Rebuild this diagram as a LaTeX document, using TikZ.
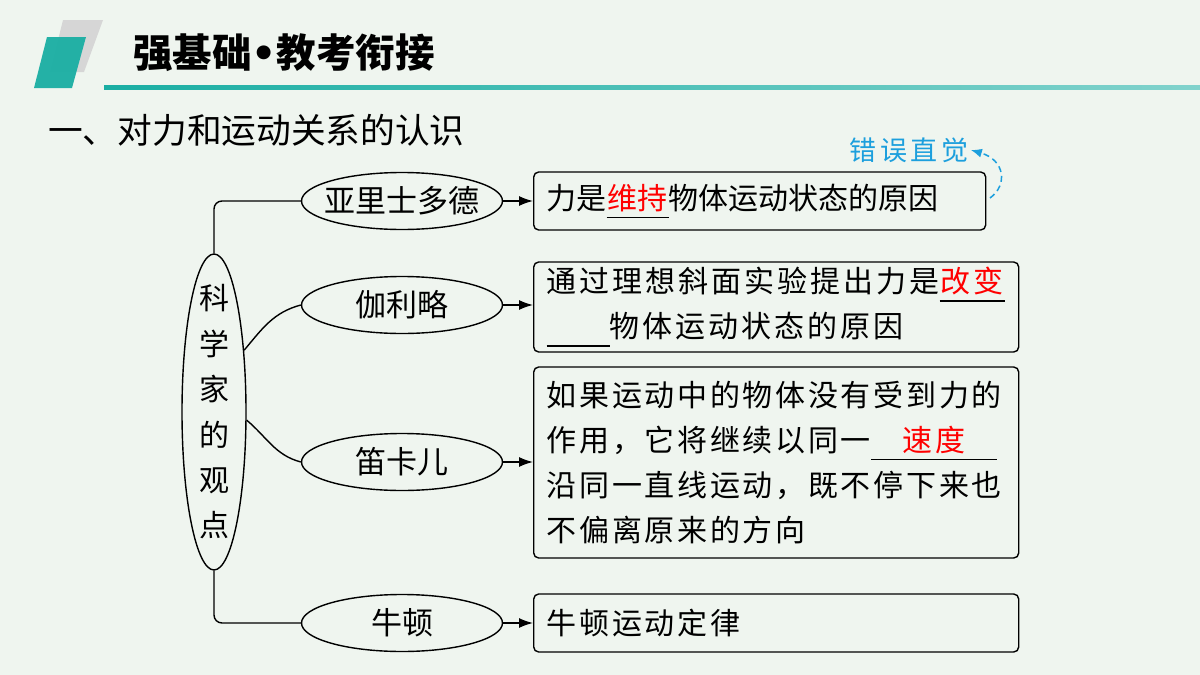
\documentclass[tikz,border=0pt]{standalone}
\usepackage{fontspec}
\setmainfont{Noto Sans CJK SC}
\newfontfamily\dotfont{DejaVu Sans}
\usetikzlibrary{shapes.geometric,arrows.meta,positioning}
\definecolor{bgmint}{HTML}{EFF5EF}
\definecolor{headteal}{HTML}{1AAEA3}
\definecolor{headgray}{HTML}{D6D6D6}
\definecolor{hintblue}{HTML}{1C9FDD}
\newcommand{\gap}[2]{\makebox[#1]{\textcolor{red}{#2}}\kern-#1\textcolor{black}{\rule[-9pt]{#1}{1.3pt}}}
\tikzset{
	who/.style={draw, line width=1.4pt, ellipse, minimum width=201pt, minimum height=57pt, inner sep=0pt, font=\fontsize{31}{36}\selectfont},
	view/.style={draw, line width=1.4pt, rounded corners=5pt, anchor=west, align=left, inner xsep=13pt, inner ysep=0pt, font=\fontsize{30}{45}\selectfont},
	wide/.style={font=\fontsize{30}{45}\selectfont\addfontfeature{LetterSpace=#1}},
	link/.style={line width=1.4pt, rounded corners=8pt},
	push/.style={line width=1.4pt, -{Latex[length=14pt,width=10pt]}},
}
\begin{document}
\begin{tikzpicture}[x=1pt,y=1pt]
		\fill [bgmint] (0,0) rectangle (1200,-675);
		\useasboundingbox (0,0) rectangle (1200,-675);
		\fill [headgray] (63,-20)--(103,-20)--(84,-72)--(50,-72)--cycle;
		\fill [headteal, opacity=0.95] (47,-37)--(86,-37)--(72,-88)--(34,-88)--cycle;
		\shade [left color=headteal, right color=headteal!55] (104,-85) rectangle (1200,-89.5);
		\node [anchor=west, inner sep=0pt, font=\fontsize{39.5}{42}\selectfont\bfseries] (title) at (133,-53) {强基础{\dotfont\bfseries•}教考衔接};
		\node [anchor=west, inner sep=0pt, font=\fontsize{34.7}{36}\selectfont] (topic) at (48,-130) {一、对力和运动关系的认识};
		\node [draw, ellipse, line width=1.4pt, minimum width=64pt, minimum height=316pt] (sci) at (214,-412) {};
		\node [align=center, inner sep=0pt, font=\fontsize{30}{45.4}\selectfont] (scitext) at (sci) {科\\学\\家\\的\\观\\点};
		\node [who] (arist) at (402,-201) {\makebox[0pt]{亚里士多德}};
		\node [who] (galileo) at (402,-305) {\makebox[0pt]{伽利略}};
		\node [who] (descartes) at (402,-462) {\makebox[0pt]{笛卡儿}};
		\node [who] (newton) at (402,-623) {\makebox[0pt]{牛顿}};
		\node [view, minimum width=452pt, minimum height=58pt, text width=426pt] (force) at (533,-201) {力是\gap{62pt}{维持}物体运动状态的原因};
		\node [view, wide=10, minimum width=485pt, minimum height=90pt, text width=459pt] (change) at (533,-307) {通过理想斜面实验提出力是\gap{65pt}{改变}\\\gap{63pt}{}物体运动状态的原因};
		\node [view, wide=9, minimum width=485pt, minimum height=191pt, text width=459pt] (inertia) at (533,-462.5) {如果运动中的物体没有受到力的\\作用，它将继续以同一\gap{126pt}{速度}\\沿同一直线运动，既不停下来也\\不偏离原来的方向};
		\node [view, wide=9, minimum width=485pt, minimum height=58pt, text width=459pt] (law) at (533,-623) {牛顿运动定律};
		\node [inner sep=2pt, text=hintblue, font=\fontsize{27}{30}\selectfont\addfontfeature{LetterSpace=14}] (hint) at (909,-150) {错误直觉};
		\coordinate (hintfrom) at (990,-198);
		\draw [link] (sci.north) |- (arist.west);
		\draw [link] (sci.south) |- (newton.west);
		\draw [line width=1.4pt] (sci.64) to[out=50,in=195] (galileo.west);
		\draw [line width=1.4pt] (sci.-14) to[out=-40,in=165] (descartes.west);
		\draw [push] (arist.east)--(arist.east -| force.west);
		\draw [push] (galileo.east)--(galileo.east -| change.west);
		\draw [push] (descartes.east)--(descartes.east -| inertia.west);
		\draw [push] (newton.east)--(newton.east -| law.west);
		\draw [hintblue, line width=1.5pt, dash pattern=on 6pt off 4pt, -{Latex[length=11pt,width=9pt]}] (hintfrom) .. controls (1008,-185) and (1005,-160) .. (hint.east);
	\end{tikzpicture}
\end{document}
